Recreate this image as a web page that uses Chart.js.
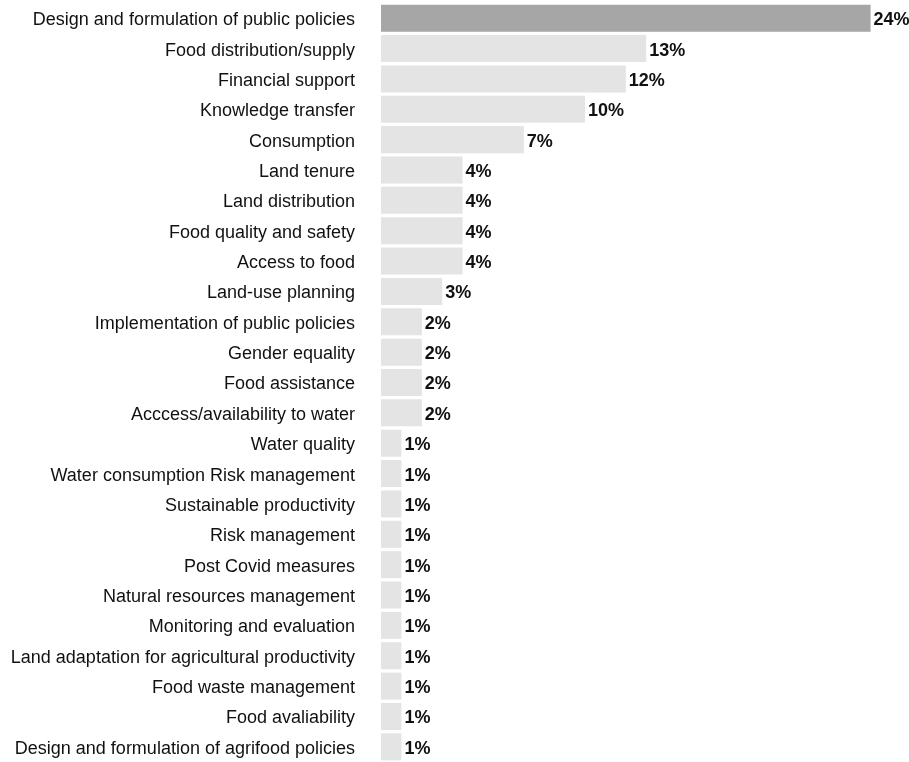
<!DOCTYPE html>
<html>
<head>
<meta charset="utf-8">
<script src="https://cdn.jsdelivr.net/npm/chart.js@4"></script>
<style>
  html, body { margin: 0; padding: 0; background: #ffffff; }
  #wrap { width: 909px; height: 762px; position: relative; }
</style>
</head>
<body>
<div id="wrap"><canvas id="c"></canvas></div>
<script>
const categories = [
  "Design and formulation of public policies",
  "Food distribution/supply",
  "Financial support",
  "Knowledge transfer",
  "Consumption",
  "Land tenure",
  "Land distribution",
  "Food quality and safety",
  "Access to food",
  "Land-use planning",
  "Implementation of public policies",
  "Gender equality",
  "Food assistance",
  "Acccess/availability to water",
  "Water quality",
  "Water consumption Risk management",
  "Sustainable productivity",
  "Risk management",
  "Post Covid measures",
  "Natural resources management",
  "Monitoring and evaluation",
  "Land adaptation for agricultural productivity",
  "Food waste management",
  "Food avaliability",
  "Design and formulation of agrifood policies"
];
const shares = [24, 13, 12, 10, 7, 4, 4, 4, 4, 3, 2, 2, 2, 2, 1, 1, 1, 1, 1, 1, 1, 1, 1, 1, 1];

const FONT = "'Liberation Sans', Arial, sans-serif";

// value labels drawn just past the end of each bar
const valueLabels = {
  id: 'valueLabels',
  afterDatasetsDraw(chart) {
    const ctx = chart.ctx;
    const meta = chart.getDatasetMeta(0);
    ctx.save();
    ctx.font = "bold 18px " + FONT;
    ctx.fillStyle = "#111111";
    ctx.textAlign = "left";
    ctx.textBaseline = "middle";
    meta.data.forEach((bar, i) => {
      ctx.fillText(shares[i] + "%", bar.x + 3, bar.y + 2);
    });
    ctx.restore();
  }
};

new Chart(document.getElementById('c'), {
  type: 'bar',
  data: {
    labels: categories,
    datasets: [{
      data: shares,
      backgroundColor: shares.map((v, i) => i === 0 ? "#a6a6a6" : "#e4e4e4"),
      borderWidth: 0,
      barPercentage: 0.89,
      categoryPercentage: 1.0
    }]
  },
  options: {
    indexAxis: 'y',
    responsive: true,
    maintainAspectRatio: false,
    animation: false,
    layout: { padding: { left: 0, right: 18, top: 3, bottom: 0 } },
    plugins: {
      legend: { display: false },
      tooltip: { enabled: false }
    },
    scales: {
      x: {
        display: false,
        min: 0,
        max: 25
      },
      y: {
        grid: { display: false, drawTicks: false },
        border: { display: false },
        ticks: {
          padding: 26,
          labelOffset: 2,
          color: "#111111",
          font: { family: FONT, size: 18 },
          autoSkip: false
        },
        afterFit(scale) {
          scale.width = 381;
          scale.paddingTop = 0;
          scale.paddingBottom = 0;
        }
      }
    }
  },
  plugins: [valueLabels]
});
</script>
</body>
</html>
